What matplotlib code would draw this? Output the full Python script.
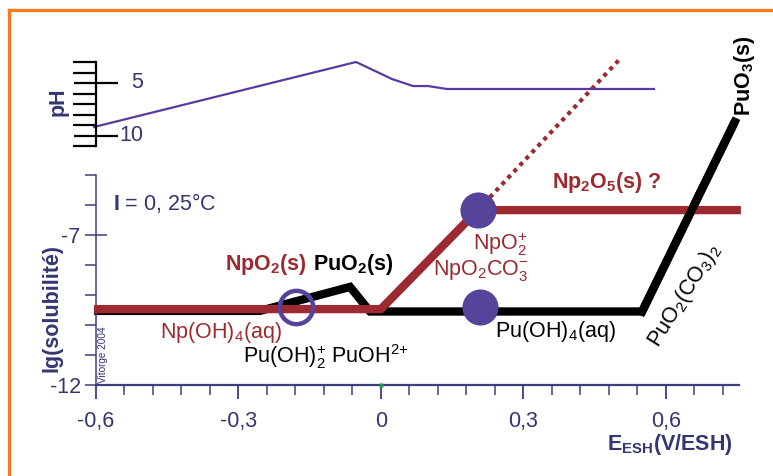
import numpy as np
import matplotlib
matplotlib.use("Agg")
import matplotlib.pyplot as plt
import matplotlib.transforms as mtransforms
from matplotlib.lines import Line2D

plt.rcParams['font.family'] = ['Liberation Sans', 'DejaVu Sans']
plt.rcParams['mathtext.fontset'] = 'custom'
plt.rcParams['mathtext.rm'] = 'Liberation Sans'
plt.rcParams['mathtext.it'] = 'Liberation Sans:italic'
plt.rcParams['mathtext.bf'] = 'Liberation Sans:bold'
plt.rcParams['mathtext.default'] = 'rm'

# --- data ---
# Pu solubility (black)
pu_E = [-0.604, -0.255, -0.065, -0.023, 0.55, 0.745]
pu_lg = [-9.53, -9.53, -8.73, -9.55, -9.55, -3.23]
# Np solubility (red)
np_E = [-0.604, 0.0, 0.204, 0.758]
np_lg = [-9.47, -9.47, -6.17, -6.17]
# Np dotted extension
npdot_E = [0.204, 0.507]
npdot_lg = [-6.17, -1.07]
# pH along the path
ph_E = [-0.604, -0.0525, 0.0233, 0.0675, 0.099, 0.139, 0.575]
ph_val = [9.19, 3.0, 4.62, 5.29, 5.29, 5.57, 5.57]
# markers
ring_E, ring_lg = [-0.179], [-9.4]
dot_E = [0.204, 0.208]
dot_lg = [-6.17, -9.4]

xticks = [-0.6, -0.3, 0.0, 0.3, 0.6]
xticklabels = ['-0,6', '-0,3', '0', '0,3', '0,6']
yticks = [-12, -7]
yticklabels = ['-12', '-7']
ph_ticks = [5, 10]

RED = '#9c2a30'
NAVY = '#34366f'
AXC = '#3d3d80'
PURPLE = '#56449b'
PHC = '#5b3aa0'
FS = 15.5

W, H = 773, 476
fig = plt.figure(figsize=(W / 100, H / 100), dpi=100)

# orange frame (top + left)
fig.add_artist(Line2D([8.5 / W, 1], [1 - 10 / H, 1 - 10 / H], color='#f47c20', lw=2.4))
fig.add_artist(Line2D([8.5 / W, 8.5 / W], [0, 1 - 10 / H], color='#f47c20', lw=2.4))

ax = fig.add_axes([96 / W, 91 / H, 643 / W, 354 / H])
ax.set_xlim(-0.6, 0.754)
ax.set_ylim(-12, -0.2)
ax.patch.set_alpha(0)
for s in ['top', 'right']:
    ax.spines[s].set_visible(False)
ax.spines['left'].set_color(AXC)
ax.spines['left'].set_linewidth(1.1)
ax.spines['left'].set_bounds(-12, -5)
ax.spines['bottom'].set_color(AXC)
ax.spines['bottom'].set_linewidth(1.6)

ax.set_xticks(xticks)
ax.set_xticklabels(xticklabels)
ax.set_xticks(np.arange(-0.6, 0.75, 0.06), minor=True)
ax.set_yticks(yticks)
ax.set_yticklabels(yticklabels)
ax.set_yticks(np.arange(-12, -4, 1), minor=True)
ax.tick_params(axis='x', which='major', direction='out', length=10, width=1.3,
               color=AXC, labelcolor=NAVY, labelsize=FS, pad=9)
ax.tick_params(axis='x', which='minor', direction='out', length=7.5, width=1.1, color=AXC)
ax.tick_params(axis='y', which='major', direction='inout', length=16, width=1.1,
               color=AXC, labelcolor=NAVY, labelsize=FS, pad=3)
ax.tick_params(axis='y', which='minor', direction='out', length=8, width=1.1, color=AXC)

# curves
ax.plot(pu_E, pu_lg, color='black', lw=6, solid_joinstyle='miter',
        solid_capstyle='butt', zorder=2, clip_on=False)
ax.plot(np_E, np_lg, color=RED, lw=6, solid_joinstyle='miter',
        solid_capstyle='butt', zorder=3, clip_on=False)
ax.plot(pu_E[-2:], pu_lg[-2:], color='black', lw=6, solid_capstyle='projecting',
        zorder=4, clip_on=False)
ax.plot(npdot_E, npdot_lg, color=RED, lw=3, linestyle=(0, (1, 1.1)),
        dash_capstyle='butt', zorder=3, clip_on=False)
ax.plot(ring_E, ring_lg, 'o', ms=24, mfc='none', mec=PURPLE, mew=3.2, zorder=5)
ax.plot(dot_E, dot_lg, 'o', ms=26, mfc=PURPLE, mec='none', zorder=5)
ax.plot([0.0], [-12], 's', ms=2.5, color='#1a9a55', mec='none', zorder=6, clip_on=False)

# labels
ax.text(-0.564, -6.17, r'$\mathbf{I}$ = 0, 25°C', color=NAVY, fontsize=FS, va='baseline')
ax.text(-0.328, -8.17, r'$\mathbf{NpO_2(s)}$', color=RED, fontsize=FS, va='baseline')
ax.text(-0.143, -8.17, r'$\mathbf{PuO_2(s)}$', color='black', fontsize=FS, va='baseline')
ax.text(-0.465, -10.43, r'Np(OH)$_4$(aq)', color=RED, fontsize=FS, va='baseline')
ax.text(-0.290, -11.27, r'Pu(OH)$_2^{{+}}$ PuOH$^{2{+}}$', color='black', fontsize=FS,
        va='baseline')
ax.text(0.194, -7.5, r'NpO$_2^{{+}}$', color=RED, fontsize=FS, va='baseline')
ax.text(0.110, -8.33, r'NpO$_2$CO$_3^{{-}}$', color=RED, fontsize=FS, va='baseline')
ax.text(0.240, -10.4, r'Pu(OH)$_4$(aq)', color='black', fontsize=FS, va='baseline')
ax.text(0.360, -5.43, r'$\mathbf{Np_2O_5(s)\ ?}$', color=RED, fontsize=FS, va='baseline')
ax.text(0.640, -9.03, r'PuO$_2$(CO$_3$)$_2$', color='black', fontsize=FS,
        rotation=58, ha='center', va='center', rotation_mode='anchor')
ax.text(0.7647, -3.03, r'$\mathbf{PuO_3(s)}$', color='black', fontsize=FS,
        rotation=90, ha='left', va='center', rotation_mode='anchor', clip_on=False)
ax.text(-0.586, -11.93, 'Vitorge 2004', color=NAVY, fontsize=7.2, rotation=90,
        ha='center', va='bottom')
ax.text(0.741, -14.17, r'$\mathbf{E_{ESH}(V/ESH)}$', color=NAVY, fontsize=FS,
        ha='right', va='baseline', clip_on=False)
fig.text(52 / W, 1 - 308 / H, 'lg(solubilité)', color=NAVY, fontsize=FS,
         fontweight='bold', rotation=90, ha='center', va='center')

# pH inset
ax2 = fig.add_axes([96 / W, (H - 146) / H, 643 / W, 84 / H])
ax2.set_xlim(-0.6, 0.754)
ax2.set_ylim(11, 3)
ax2.patch.set_alpha(0)
for s in ['top', 'right', 'bottom']:
    ax2.spines[s].set_visible(False)
ax2.spines['left'].set_color('black')
ax2.spines['left'].set_linewidth(1.6)
ax2.set_xticks([])
ax2.set_yticks(ph_ticks)
ax2.set_yticklabels([])
ax2.set_yticks(np.arange(3, 12, 1), minor=True)
ax2.tick_params(axis='y', which='major', direction='inout', length=31.5, width=1.6, color='black')
ax2.tick_params(axis='y', which='minor', direction='out', length=16.5, width=1.6, color='black')
ax2.plot(ph_E, ph_val, color=PHC, lw=1.6, clip_on=False)
tr = mtransforms.blended_transform_factory(ax2.transAxes, ax2.transData)
for v in ph_ticks:
    ax2.text((143 - 96) / 643, v, str(v), transform=tr, color=NAVY, fontsize=FS,
             ha='right', va='center')
fig.text(58 / W, 1 - 102 / H, 'pH', color=NAVY, fontsize=FS, fontweight='bold',
         rotation=90, ha='center', va='center')

fig.savefig('out.png', dpi=100)
